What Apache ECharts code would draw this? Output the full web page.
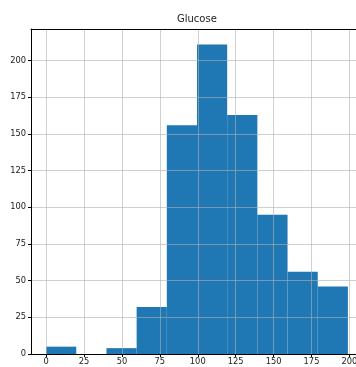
<!DOCTYPE html>
<html><head><meta charset="utf-8">
<script src="https://cdn.jsdelivr.net/npm/echarts@6/dist/echarts.min.js"></script>
<style>html,body{margin:0;padding:0;background:#fff}#c{width:356px;height:367px}</style>
</head><body><div id="c"></div>
<script>
const binEdges = [0, 19.9, 39.8, 59.7, 79.6, 99.5, 119.4, 139.3, 159.2, 179.1, 199];
const counts = [5, 0, 4, 32, 156, 211, 163, 95, 56, 46];
const xTicks = [0, 25, 50, 75, 100, 125, 150, 175, 200];
const yTicks = [0, 25, 50, 75, 100, 125, 150, 175, 200];
const title = 'Glucose';

const data = counts.map((c, i) => [binEdges[i], binEdges[i + 1], c]);
const chart = echarts.init(document.getElementById('c'), null, {renderer: 'canvas'});
const font = 'DejaVu Sans';
const xMin = -9.95, xMax = 208.95;
chart.setOption({
  animation: false,
  title: {text: title, left: 177, top: 14, padding: 0,
    textStyle: {fontFamily: font, fontSize: 10, fontWeight: 'normal', color: '#222'}},
  grid: {left: 31, top: 29, right: -7, bottom: 13, show: false, outerBoundsMode: 'none', containLabel: false},
  xAxis: [{type: 'value', min: xMin, max: xMax, z: 4,
    axisLine: {show: true, onZero: false, lineStyle: {color: '#000', width: 1}},
    axisTick: {show: true, length: 3, customValues: xTicks, lineStyle: {color: '#000'}},
    axisLabel: {customValues: xTicks, fontFamily: font, fontSize: 8.3, color: '#222', margin: 4},
    splitLine: {show: true, lineStyle: {color: 'rgba(176,176,176,0.6)', width: 1}}},
    {type: 'value', position: 'top', min: xMin, max: xMax, z: 5,
    axisLine: {show: true, onZero: false, lineStyle: {color: '#000', width: 1}},
    axisTick: {show: false}, axisLabel: {show: false}, splitLine: {show: false}}],
  yAxis: {type: 'value', min: 0, max: 221.55, z: 4,
    axisLine: {show: true, onZero: false, lineStyle: {color: '#000', width: 1}},
    axisTick: {show: true, length: 3, customValues: yTicks, lineStyle: {color: '#000'}},
    axisLabel: {customValues: yTicks, fontFamily: font, fontSize: 8.3, color: '#222', margin: 5},
    splitLine: {show: true, lineStyle: {color: 'rgba(176,176,176,0.6)', width: 1}}},
  series: [{
    type: 'custom', z: 2, xAxisIndex: 0,
    renderItem: function (params, api) {
      const p0 = api.coord([api.value(0), 0]);
      const p1 = api.coord([api.value(1), api.value(2)]);
      return {type: 'rect', shape: {x: p0[0], y: p1[1], width: p1[0] - p0[0], height: p0[1] - p1[1]},
        style: {fill: '#1f77b4'}};
    },
    encode: {x: [0, 1], y: 2},
    data: data
  }]
});
</script></body></html>
